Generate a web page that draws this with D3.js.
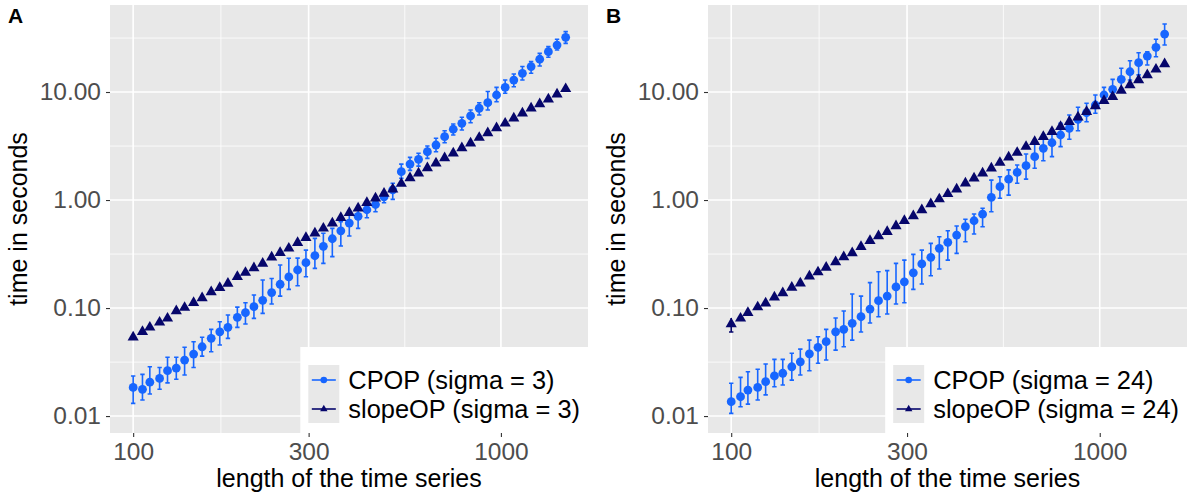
<!DOCTYPE html>
<html>
<head>
<meta charset="utf-8">
<script src="https://cdn.jsdelivr.net/npm/d3@7"></script>
<style>
  body { margin: 0; background: #fff; }
  text { font-family: "Liberation Sans", Arial, sans-serif; }
</style>
</head>
<body>
<div id="chart"></div>
<script>
var canvasWidth = 1199;
var canvasHeight = 500;

/* length of the time series (x values, shared by both panels) */
var lengths = [100,106,111,118,124,131,138,146,154,163,172,181,192,202,213,225,238,251,265,280,
  295,312,329,348,367,387,409,432,456,481,508,536,566,597,631,666,703,742,783,827,
  873,921,973,1027,1084,1144,1208,1275,1346,1421,1500];

/* panel A, sigma = 3 */
var cpopA = [0.0184,0.0177,0.0206,0.0223,0.0263,0.0278,0.0330,0.0375,0.0438,0.0524,
  0.0603,0.0663,0.0820,0.0905,0.103,0.118,0.139,0.166,0.194,0.225,
  0.263,0.305,0.373,0.438,0.519,0.612,0.706,0.813,0.909,1.07,
  1.24,1.83,2.15,2.38,2.80,3.23,3.86,4.52,5.13,6.00,
  7.07,7.96,9.38,11.05,12.9,14.9,17.2,20.1,23.6,27.2,32.1];
var cpopALow = [0.0131,0.0141,0.0160,0.0177,0.0203,0.0219,0.0240,0.0282,0.0359,0.0394,
  0.0455,0.0524,0.0663,0.0711,0.0803,0.0893,0.109,0.129,0.149,0.161,
  0.195,0.233,0.259,0.299,0.375,0.464,0.547,0.686,0.779,0.944,
  1.015,1.59,1.88,2.06,2.43,2.80,3.39,4.00,4.45,5.20,
  6.12,6.81,8.13,9.73,11.2,12.9,14.9,17.4,21.0,24.5,28.2];
var cpopAHigh = [0.0235,0.0243,0.0286,0.0282,0.0350,0.0350,0.0433,0.0488,0.0536,0.0635,
  0.0747,0.0861,0.102,0.112,0.132,0.182,0.188,0.250,0.289,0.290,
  0.344,0.442,0.492,0.547,0.630,0.726,0.808,0.899,1.00,1.19,
  1.43,2.15,2.48,2.71,3.16,3.73,4.38,5.05,5.83,6.81,
  7.96,10.1,11.05,12.9,14.7,17.2,19.1,22.8,26.3,30.8,36.2];
var slopeA = [0.0536,0.0603,0.0663,0.0737,0.0803,0.0938,0.101,0.112,0.124,0.141,
  0.154,0.169,0.195,0.213,0.235,0.259,0.295,0.325,0.357,0.402,
  0.448,0.492,0.547,0.609,0.686,0.763,0.838,0.944,1.04,1.15,
  1.26,1.42,1.60,1.77,1.98,2.19,2.45,2.71,3.03,3.35,
  3.78,4.17,4.64,5.13,5.71,6.35,7.07,7.74,8.56,9.52,10.7];

/* panel B, sigma = 24 */
var cpopB = [0.0136,0.0151,0.0174,0.0184,0.0208,0.0235,0.0249,0.0286,0.0318,0.0377,
  0.0433,0.0488,0.0603,0.0635,0.0722,0.0831,0.0979,0.117,0.129,0.157,
  0.175,0.212,0.256,0.295,0.357,0.406,0.474,0.566,0.643,0.739,
  1.06,1.33,1.56,1.80,2.08,2.52,3.01,3.39,4.00,4.61,
  5.59,6.43,7.58,9.38,10.6,13.1,15.4,18.7,21.5,25.9,34.4];
var cpopBLow = [0.0106,0.0122,0.0129,0.0141,0.0157,0.0187,0.0194,0.0215,0.0240,0.0263,
  0.0308,0.0330,0.0408,0.0438,0.0505,0.0600,0.0726,0.0831,0.0880,0.109,
  0.112,0.149,0.167,0.199,0.230,0.278,0.321,0.411,0.485,0.566,
  0.779,1.04,1.11,1.43,1.56,1.97,2.31,2.52,3.12,3.65,
  4.38,5.31,6.35,8.13,9.05,10.8,12.9,14.4,17.8,21.2,27.2];
var cpopBHigh = [0.0201,0.0228,0.0257,0.0271,0.0303,0.0335,0.0335,0.0381,0.0417,0.0505,
  0.0542,0.0635,0.0808,0.0938,0.135,0.129,0.172,0.217,0.222,0.259,
  0.278,0.314,0.344,0.397,0.457,0.520,0.574,0.663,0.742,0.838,
  1.53,1.64,1.90,2.11,2.67,3.30,4.00,4.45,5.13,6.12,
  7.22,7.86,9.38,11.05,13.1,16.6,19.5,23.1,23.6,30.8,42.6];
var slopeB = [0.0711,0.0803,0.0905,0.102,0.111,0.126,0.138,0.155,0.170,0.197,
  0.215,0.237,0.267,0.297,0.323,0.370,0.420,0.464,0.509,0.574,
  0.643,0.711,0.808,0.918,1.02,1.14,1.26,1.43,1.59,1.77,
  1.97,2.22,2.49,2.75,3.12,3.47,3.86,4.29,4.77,5.31,
  5.83,6.57,7.42,8.31,9.05,10.3,11.6,12.9,14.4,16.2,18.2];
/* the only slopeOP error bar that sticks out of its triangle */
var slopeBLow = [0.0600];
var slopeBHigh = [0.0808];

/* ticks */
var xTicks = [100, 300, 1000];
var xMinor = [173.2, 547.7];
var yTicks = [0.01, 0.1, 1, 10];
var yTickLabels = ["0.01", "0.10", "1.00", "10.00"];
var yMinor = [0.0316, 0.316, 3.16, 31.6];

var seriesNames = ["CPOP", "slopeOP"];
var blue = "#1766ff";
var navy = "#06066b";

var panels = [
  {tag: "A", left: 110, right: 588, sigma: 3, cpop: cpopA, lo: cpopALow, hi: cpopAHigh, slope: slopeA, sLo: [], sHi: []},
  {tag: "B", left: 708, right: 1187, sigma: 24, cpop: cpopB, lo: cpopBLow, hi: cpopBHigh, slope: slopeB, sLo: slopeBLow, sHi: slopeBHigh}
];
var plotTop = 5, plotBottom = 433;

var svg = d3.select("#chart").append("svg")
    .attr("width", canvasWidth)
    .attr("height", canvasHeight)
    .style("display", "block");

svg.append("rect").attr("width", canvasWidth).attr("height", canvasHeight).attr("fill", "#fff");

var triangle = d3.symbol().type(d3.symbolTriangle).size(54);
var keyTriangle = d3.symbol().type(d3.symbolTriangle).size(24);

panels.forEach(function (p) {
    var xScale = d3.scaleLog().domain([86.5, 1725]).range([p.left, p.right]);
    var yScale = d3.scaleLog().domain([0.00697, 63.9]).range([plotBottom, plotTop]);
    var g = svg.append("g");

    /* panel background */
    g.append("rect")
        .attr("x", p.left).attr("y", plotTop)
        .attr("width", p.right - p.left).attr("height", plotBottom - plotTop)
        .attr("fill", "#e8e8e8");

    /* minor grid */
    g.selectAll(".ymin").data(yMinor).join("line")
        .attr("x1", p.left).attr("x2", p.right)
        .attr("y1", d => yScale(d)).attr("y2", d => yScale(d))
        .attr("stroke", "#fff").attr("stroke-width", 0.8);
    g.selectAll(".xmin").data(xMinor).join("line")
        .attr("y1", plotTop).attr("y2", plotBottom)
        .attr("x1", d => xScale(d)).attr("x2", d => xScale(d))
        .attr("stroke", "#fff").attr("stroke-width", 0.8);

    /* major grid */
    g.selectAll(".ymaj").data(yTicks).join("line")
        .attr("x1", p.left).attr("x2", p.right)
        .attr("y1", d => yScale(d)).attr("y2", d => yScale(d))
        .attr("stroke", "#fff").attr("stroke-width", 1.6);
    g.selectAll(".xmaj").data(xTicks).join("line")
        .attr("y1", plotTop).attr("y2", plotBottom)
        .attr("x1", d => xScale(d)).attr("x2", d => xScale(d))
        .attr("stroke", "#fff").attr("stroke-width", 1.6);

    /* axes */
    var xAxis = g.append("g")
        .attr("transform", "translate(0," + plotBottom + ")")
        .call(d3.axisBottom(xScale).tickValues(xTicks).tickFormat(d3.format("d")).tickSize(4).tickPadding(5.5));
    var yAxis = g.append("g")
        .attr("transform", "translate(" + p.left + ",0)")
        .call(d3.axisLeft(yScale).tickValues(yTicks).tickFormat((d, i) => yTickLabels[i]).tickSize(4).tickPadding(5));
    [xAxis, yAxis].forEach(function (a) {
        a.select(".domain").remove();
        a.selectAll(".tick line").attr("stroke", "#333").attr("stroke-width", 1.1);
        a.selectAll(".tick text").attr("fill", "#4d4d4d").style("font-size", "24.5px")
            .style("font-family", "'Liberation Sans', Arial, sans-serif");
    });

    /* axis titles */
    g.append("text")
        .attr("x", (p.left + p.right) / 2).attr("y", 487)
        .attr("text-anchor", "middle").style("font-size", "25px").attr("fill", "#000")
        .text("length of the time series");
    g.append("text")
        .attr("transform", "translate(" + (p.left - 83) + "," + ((plotTop + plotBottom) / 2) + ") rotate(-90)")
        .attr("text-anchor", "middle").style("font-size", "25px").attr("fill", "#000")
        .text("time in seconds");

    /* panel tag */
    g.append("text")
        .attr("x", p.left - 102).attr("y", 23)
        .style("font-size", "21px").style("font-weight", "bold").attr("fill", "#000")
        .text(p.tag);

    /* CPOP error bars */
    var bars = g.append("g").attr("stroke", blue).attr("stroke-width", 1.6);
    bars.selectAll(".eb").data(lengths).join("path")
        .attr("fill", "none")
        .attr("d", function (d, i) {
            var x = xScale(d), y1 = yScale(p.lo[i]), y2 = yScale(p.hi[i]);
            return "M" + (x - 2.2) + "," + y1 + "H" + (x + 2.2) +
                   "M" + x + "," + y1 + "V" + y2 +
                   "M" + (x - 2.2) + "," + y2 + "H" + (x + 2.2);
        });

    /* CPOP points */
    g.append("g").selectAll("circle").data(lengths).join("circle")
        .attr("cx", d => xScale(d))
        .attr("cy", (d, i) => yScale(p.cpop[i]))
        .attr("r", 4.4)
        .attr("fill", blue);

    /* slopeOP error bars (only visible ones) */
    g.append("g").attr("stroke", navy).attr("stroke-width", 1.6)
        .selectAll("path").data(p.sLo).join("path")
        .attr("fill", "none")
        .attr("d", function (d, i) {
            var x = xScale(lengths[i]), y1 = yScale(d), y2 = yScale(p.sHi[i]);
            return "M" + (x - 2.2) + "," + y1 + "H" + (x + 2.2) +
                   "M" + x + "," + y1 + "V" + y2;
        });

    /* slopeOP points */
    g.append("g").selectAll("path").data(lengths).join("path")
        .attr("d", triangle)
        .attr("transform", (d, i) => "translate(" + xScale(d) + "," + yScale(p.slope[i]) + ")")
        .attr("fill", navy);

    /* legend, inside the panel at the bottom right */
    var labels = seriesNames.map(s => s + " (sigma = " + p.sigma + ")");
    var leg = g.append("g");
    var legBox = leg.append("rect").attr("fill", "#fff");
    var keyBox = leg.append("rect").attr("fill", "#e8e8e8");
    var texts = leg.selectAll("text").data(labels).join("text")
        .attr("y", (d, i) => 389 + i * 29)
        .style("font-size", "25.4px").attr("fill", "#000")
        .text(d => d);
    var textW = d3.max(texts.nodes(), n => n.getComputedTextLength());
    var boxLeft = p.right - (8 + 31 + 9 + textW + 8);
    legBox.attr("x", boxLeft).attr("y", 347).attr("width", p.right - boxLeft + 2).attr("height", plotBottom - 347);
    keyBox.attr("x", boxLeft + 8).attr("y", 365).attr("width", 31).attr("height", 58);
    texts.attr("x", boxLeft + 48);
    var kx = boxLeft + 8 + 15.5;
    [blue, navy].forEach(function (c, i) {
        var ky = 380 + i * 29;
        leg.append("line")
            .attr("x1", kx - 12).attr("x2", kx + 12)
            .attr("y1", ky).attr("y2", ky)
            .attr("stroke", c).attr("stroke-width", 1.6);
        if (i === 0) {
            leg.append("circle").attr("cx", kx).attr("cy", ky).attr("r", 3.3).attr("fill", c);
        } else {
            leg.append("path").attr("d", keyTriangle)
                .attr("transform", "translate(" + kx + "," + ky + ")").attr("fill", c);
        }
    });
});
</script>
</body>
</html>
